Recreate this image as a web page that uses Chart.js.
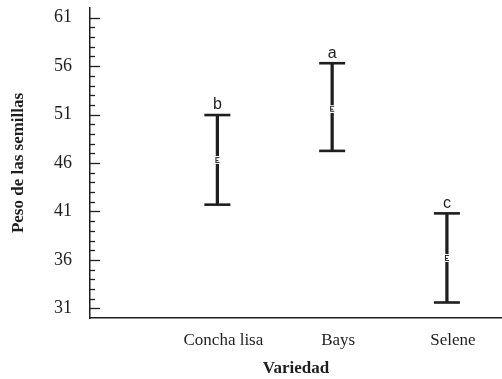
<!DOCTYPE html>
<html>
<head>
<meta charset="utf-8">
<script src="https://cdn.jsdelivr.net/npm/chart.js@4"></script>
<style>
html,body{margin:0;padding:0;background:#fff;}
#wrap{width:502px;height:379px;}
</style>
</head>
<body>
<div id="wrap"><canvas id="c" width="502" height="379"></canvas></div>
<script>
const categories = ['Concha lisa', 'Bays', 'Selene'];
const means = [46.3, 51.6, 36.2];
const upper = [50.95, 56.3, 40.8];
const lower = [41.7, 47.25, 31.6];
const letters = ['b', 'a', 'c'];
const yMajorTicks = [31, 36, 41, 46, 51, 56, 61];

const ink = '#1e1e1e';

// small "ε"-like mean marker
const mk = document.createElement('canvas');
mk.width = 6; mk.height = 8;
(function(){
  const g = mk.getContext('2d');
  g.fillStyle = '#fff'; g.fillRect(0,0,6,8);
  g.fillStyle = ink;
  g.fillRect(1,1,1,6);
  g.fillRect(1,1,4,1);
  g.fillRect(1,4,3,1);
  g.fillRect(1,6,4,1);
})();

const innerTicks = {
  id: 'innerTicks',
  afterDraw(chart) {
    const y = chart.scales.y, ctx = chart.ctx, left = chart.chartArea.left;
    ctx.save();
    ctx.strokeStyle = ink; ctx.lineWidth = 1.3;
    y.ticks.forEach(t => {
      const v = t.value;
      if (!Number.isInteger(v) || v >= 62 || v <= 30) return;
      const py = Math.round(y.getPixelForValue(v)) + 0.5;
      const len = yMajorTicks.includes(v) ? 10 : 5;
      ctx.beginPath(); ctx.moveTo(left, py); ctx.lineTo(left + len, py); ctx.stroke();
    });
    ctx.restore();
  }
};

const letterPlugin = {
  id: 'letters',
  afterDatasetsDraw(chart) {
    const x = chart.scales.x, y = chart.scales.y, ctx = chart.ctx;
    ctx.save();
    ctx.fillStyle = ink;
    ctx.font = '16px "Liberation Sans", Arial, sans-serif';
    ctx.textAlign = 'center'; ctx.textBaseline = 'middle';
    letters.forEach((l, i) => {
      ctx.fillText(l, x.getPixelForValue(i + 1), y.getPixelForValue(upper[i]) - 10);
    });
    ctx.restore();
  }
};

new Chart(document.getElementById('c'), {
  type: 'scatter',
  data: {
    datasets: [
      {
        type: 'bar',
        data: categories.map((c, i) => ({ x: i + 1, y: [lower[i], upper[i]] })),
        backgroundColor: ink,
        borderWidth: 0,
        barThickness: 2.6,
        grouped: false,
        order: 3
      },
      {
        data: categories.flatMap((c, i) => [{ x: i + 1, y: upper[i] }, { x: i + 1, y: lower[i] }]),
        pointStyle: 'line',
        radius: 13,
        borderWidth: 2.6,
        borderColor: ink,
        order: 2
      },
      {
        data: categories.map((c, i) => ({ x: i + 1, y: means[i] })),
        pointStyle: mk,
        order: 1
      }
    ]
  },
  options: {
    responsive: false,
    animation: false,
    events: [],
    layout: { autoPadding: false, padding: { top: 8, right: 0, left: 0, bottom: 0 } },
    plugins: { legend: { display: false }, tooltip: { enabled: false } },
    scales: {
      x: {
        type: 'linear',
        offset: false,
        min: -0.11,
        max: 3.48,
        afterBuildTicks(s) { s.ticks = categories.map((c, i) => ({ value: i + 1 })); },
        afterFit(s) { s.height = 61; s.paddingLeft = 0; s.paddingRight = 0; },
        grid: { drawOnChartArea: false, drawTicks: false },
        border: { color: ink, width: 1.5 },
        ticks: {
          autoSkip: false,
          maxRotation: 0,
          padding: 12,
          labelOffset: 6,
          color: ink,
          font: { family: '"Liberation Serif", "Times New Roman", serif', size: 17 },
          callback: v => categories[Math.round(v) - 1] || ''
        },
        title: {
          display: true,
          text: 'Variedad',
          color: ink,
          padding: { top: 0, bottom: 0 },
          font: { family: '"Liberation Serif", "Times New Roman", serif', size: 17, weight: 'bold' }
        }
      },
      y: {
        min: 30,
        max: 62,
        afterBuildTicks(s) {
          const t = [];
          for (let v = 30; v <= 62; v++) t.push({ value: v });
          s.ticks = t;
        },
        afterFit(s) { s.width = 90; s.paddingTop = 0; s.paddingBottom = 0; },
        grid: { drawOnChartArea: false, drawTicks: false },
        border: { color: ink, width: 1.5 },
        ticks: {
          autoSkip: false,
          padding: 18,
          color: ink,
          font: { family: '"Liberation Serif", "Times New Roman", serif', size: 18 },
          callback: v => yMajorTicks.includes(v) ? String(v) : ''
        },
        title: {
          display: true,
          text: 'Peso de las semillas',
          color: ink,
          padding: { top: 8, bottom: 0 },
          font: { family: '"Liberation Serif", "Times New Roman", serif', size: 17, weight: 'bold' }
        }
      }
    }
  },
  plugins: [innerTicks, letterPlugin]
});
</script>
</body>
</html>
